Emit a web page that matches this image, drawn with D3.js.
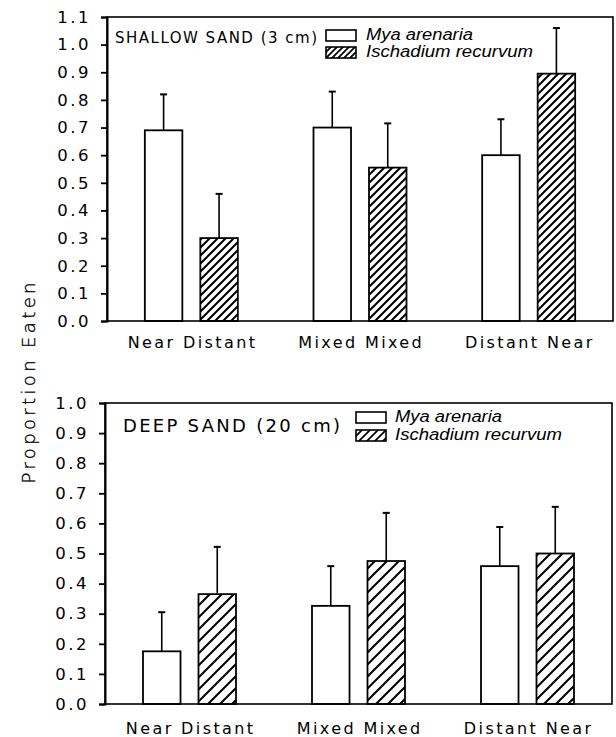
<!DOCTYPE html>
<html><head><meta charset="utf-8">
<script src="https://cdn.jsdelivr.net/npm/d3@7"></script>
<style>
html,body{margin:0;padding:0;background:#fff;}
svg{display:block;}
</style></head>
<body>
<svg id="chart" width="616" height="737"></svg>
<script>
// ---------- data ----------
const groups = ["Near Distant", "Mixed Mixed", "Distant Near"];
const species = ["Mya arenaria", "Ischadium recurvum"];
const shallowTitle = "SHALLOW SAND (3 cm)";
const deepTitle = "DEEP SAND (20 cm)";
const shallowMya = [0.69, 0.70, 0.60];
const shallowMyaErr = [0.13, 0.13, 0.13];
const shallowIsch = [0.30, 0.555, 0.895];
const shallowIschErr = [0.16, 0.16, 0.165];
const deepMya = [0.175, 0.326, 0.458];
const deepMyaErr = [0.13, 0.132, 0.13];
const deepIsch = [0.365, 0.475, 0.50];
const deepIschErr = [0.157, 0.16, 0.155];
const shallowTicks = [0, 0.1, 0.2, 0.3, 0.4, 0.5, 0.6, 0.7, 0.8, 0.9, 1.0, 1.1];
const deepTicks = [0, 0.1, 0.2, 0.3, 0.4, 0.5, 0.6, 0.7, 0.8, 0.9, 1.0];
const yLabel = "Proportion Eaten";

const svg = d3.select("#chart");
const FONT = "'DejaVu Sans', Verdana, sans-serif";
const defs = svg.append("defs");

function hatch(id, s, sw) {
  const p = defs.append("pattern").attr("id", id).attr("patternUnits", "userSpaceOnUse")
    .attr("width", s).attr("height", s);
  p.append("rect").attr("width", s).attr("height", s).attr("fill", "#fff");
  p.append("path")
    .attr("d", `M${-s/4},${s/4} L${s/4},${-s/4} M0,${s} L${s},0 M${s*3/4},${s*5/4} L${s*5/4},${s*3/4}`)
    .attr("stroke", "#000").attr("stroke-width", sw);
}
hatch("hTop", 8, 2);
hatch("hBot", 12, 2);
hatch("hLegTop", 6, 1.8);
hatch("hLegBot", 8, 1.8);

const panels = [
  { title: shallowTitle, mya: shallowMya, myaErr: shallowMyaErr, isch: shallowIsch, ischErr: shallowIschErr,
    ticks: shallowTicks, ymax: 1.1, left: 107, right: 613, top: 17, bottom: 321, labelY: 348,
    titleX: 115, titleY: 43, titleSize: 15, titleW: 202, legX: 326, legY: 30, legTextX: 366, pat: "hTop", legPat: "hLegTop", legGap: 17 },
  { title: deepTitle, mya: deepMya, myaErr: deepMyaErr, isch: deepIsch, ischErr: deepIschErr,
    ticks: deepTicks, ymax: 1.0, left: 105, right: 612, top: 403, bottom: 704, labelY: 734,
    titleX: 123, titleY: 432, titleSize: 18, titleW: 217, legX: 356, legY: 412, legTextX: 395, pat: "hBot", legPat: "hLegBot", legGap: 18 }
];

panels.forEach(P => {
  const g = svg.append("g");
  const y = d3.scaleLinear().domain([0, P.ymax]).range([P.bottom, P.top]);
  const x0 = d3.scaleBand().domain(groups).range([P.left, P.right]).padding(0);
  const gw = 93;
  const x1 = d3.scaleBand().domain(species)
    .range([(x0.bandwidth() - gw) / 2, (x0.bandwidth() + gw) / 2]).paddingInner(0.324);

  const rows = [];
  groups.forEach((grp, i) => {
    rows.push({ grp, sp: species[0], v: P.mya[i], e: P.myaErr[i], fill: "#fff" });
    rows.push({ grp, sp: species[1], v: P.isch[i], e: P.ischErr[i], fill: `url(#${P.pat})` });
  });

  // error bars
  const eb = g.selectAll(".eb").data(rows).enter().append("g");
  eb.append("line")
    .attr("x1", d => x0(d.grp) + x1(d.sp) + x1.bandwidth() / 2)
    .attr("x2", d => x0(d.grp) + x1(d.sp) + x1.bandwidth() / 2)
    .attr("y1", d => y(d.v)).attr("y2", d => y(d.v + d.e))
    .attr("stroke", "#000").attr("stroke-width", 1.6);
  eb.append("line")
    .attr("x1", d => x0(d.grp) + x1(d.sp) + x1.bandwidth() / 2 - 3.5)
    .attr("x2", d => x0(d.grp) + x1(d.sp) + x1.bandwidth() / 2 + 3.5)
    .attr("y1", d => y(d.v + d.e)).attr("y2", d => y(d.v + d.e))
    .attr("stroke", "#000").attr("stroke-width", 2);

  // bars
  g.selectAll(".bar").data(rows).enter().append("rect")
    .attr("x", d => x0(d.grp) + x1(d.sp))
    .attr("y", d => y(d.v))
    .attr("width", x1.bandwidth())
    .attr("height", d => y(0) - y(d.v))
    .attr("fill", d => d.fill)
    .attr("stroke", "#000").attr("stroke-width", 1.8);

  // frame
  g.append("rect").attr("x", P.left).attr("y", P.top)
    .attr("width", P.right - P.left).attr("height", P.bottom - P.top)
    .attr("fill", "none").attr("stroke", "#000").attr("stroke-width", 1.6);

  // y axis
  const ax = g.append("g").attr("transform", `translate(${P.left},0)`)
    .call(d3.axisLeft(y).tickValues(P.ticks).tickFormat(d3.format(".1f")).tickSize(6).tickPadding(10));
  ax.select(".domain").attr("stroke-width", 2);
  ax.selectAll(".tick line").attr("stroke-width", 1.8);
  ax.selectAll(".tick text").attr("font-family", FONT).attr("font-size", 16.5)
    .attr("letter-spacing", "2.5px").attr("fill", "#000");

  // x group labels
  g.selectAll(".xl").data(groups).enter().append("text")
    .attr("x", d => x0(d) + x0.bandwidth() / 2)
    .attr("y", P.labelY)
    .attr("text-anchor", "middle")
    .attr("font-family", FONT).attr("font-size", 16).attr("letter-spacing", "2.4px")
    .attr("dx", 1.2)
    .text(d => d);

  // title
  g.append("text").attr("x", P.titleX).attr("y", P.titleY)
    .attr("font-family", FONT).attr("font-size", P.titleSize)
    .attr("textLength", P.titleW).attr("lengthAdjust", "spacing")
    .text(P.title);

  // legend
  const lg = g.append("g");
  const legFills = ["#fff", `url(#${P.legPat})`];
  species.forEach((sp, i) => {
    lg.append("rect").attr("x", P.legX).attr("y", P.legY + i * P.legGap)
      .attr("width", 30).attr("height", 11)
      .attr("fill", legFills[i]).attr("stroke", "#000").attr("stroke-width", 1.6);
    lg.append("text").attr("x", P.legTextX).attr("y", P.legY + i * P.legGap + 10)
      .attr("font-family", "'Liberation Sans', Arial, sans-serif").attr("font-style", "italic")
      .attr("font-size", 16)
      .attr("textLength", i === 0 ? 107 : 167).attr("lengthAdjust", "spacingAndGlyphs")
      .text(sp);
  });
});

// y axis title
svg.append("text")
  .attr("transform", "translate(35,383) rotate(-90)")
  .attr("text-anchor", "middle")
  .attr("font-family", FONT).attr("font-weight", 200).attr("font-size", 18)
  .attr("textLength", 201).attr("lengthAdjust", "spacing")
  .attr("fill", "#000").attr("stroke", "#000").attr("stroke-width", 0.35)
  .text(yLabel);
</script>
</body></html>
